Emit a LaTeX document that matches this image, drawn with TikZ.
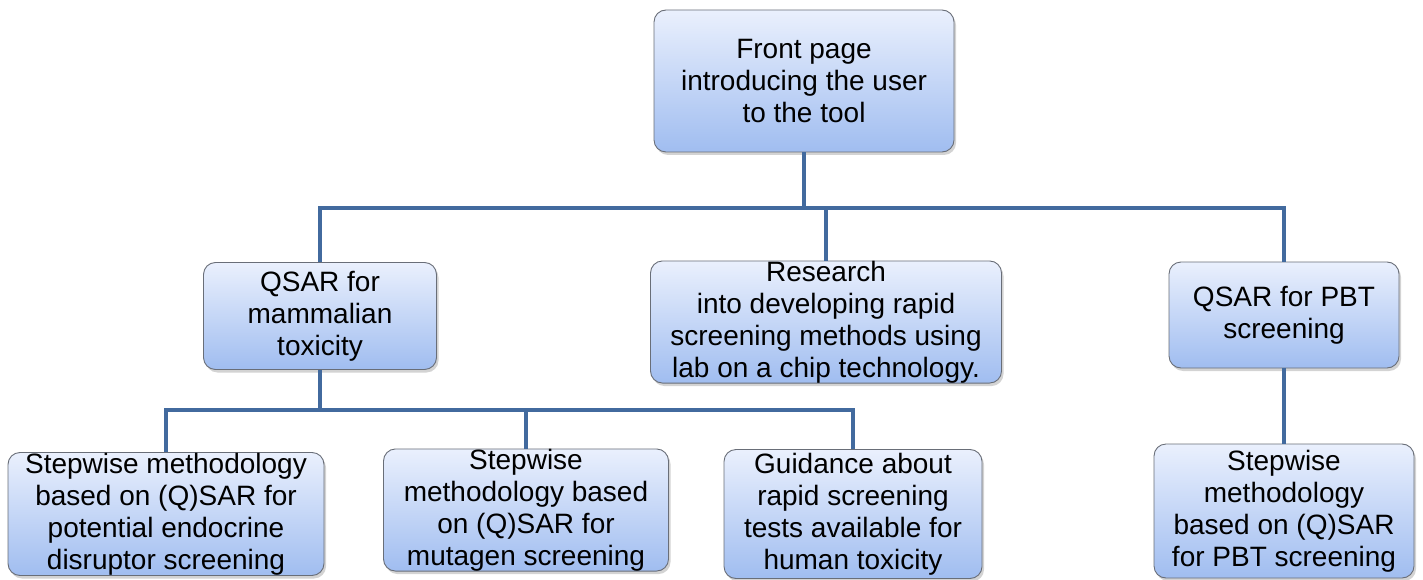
\documentclass[tikz,border=0pt]{standalone}
\usepackage{fontspec}
\setmainfont{Liberation Sans}
\usetikzlibrary{shadows}
\definecolor{boxtop}{RGB}{234,240,253}
\definecolor{boxbot}{RGB}{160,189,240}
\definecolor{boxedge}{RGB}{105,110,120}
\definecolor{linkc}{RGB}{66,106,158}
\tikzset{
  box/.style={draw=boxedge, line width=0.9pt, rounded corners=12pt,
    top color=boxtop, bottom color=boxbot, align=center,
    font=\fontsize{28}{32}\selectfont, inner sep=0pt,
    drop shadow={shadow xshift=2pt, shadow yshift=-3pt, opacity=0.35}},
  link/.style={draw=linkc, line width=4pt}
}
\begin{document}
\begin{tikzpicture}[x=1pt,y=-1pt]
\useasboundingbox (0,0) rectangle (1423,580);
\node[box, minimum width=300pt, minimum height=142pt] (top) at (804,81)
  {Front page\\introducing the user\\to the tool};
\node[box, minimum width=233pt, minimum height=107pt] (mam) at (320,316)
  {QSAR for\\mammalian\\toxicity};
\node[box, minimum width=351pt, minimum height=120pt] (res) at (826,322)
  {Research\\into developing rapid\\screening methods using\\lab on a chip technology.};
\node[box, minimum width=230pt, minimum height=106pt] (pbtq) at (1284,315)
  {QSAR for PBT\\screening};
\node[box, minimum width=316pt, minimum height=123pt] (sw1) at (166,514)
  {Stepwise methodology\\based on (Q)SAR for\\potential endocrine\\disruptor screening};
\node[box, minimum width=285pt, minimum height=117pt] (mut) at (526,510)
  {Stepwise\\methodology based\\on (Q)SAR for\\mutagen screening};
\node[box, minimum width=258pt, minimum height=129pt] (guid) at (853,514)
  {Guidance about\\rapid screening\\tests available for\\human toxicity};
\node[box, minimum width=260pt, minimum height=134pt] (sw4) at (1284,511)
  {Stepwise\\methodology\\based on (Q)SAR\\for PBT screening};
\coordinate (b1) at (804,208);
\coordinate (b2) at (320,410);
\draw[link] (top.south) -- (b1);
\draw[link] (mam.north) |- (b1) -| (pbtq.north);
\draw[link] (res.north) -- (res.north |- b1);
\draw[link] (mam.south) -- (b2);
\draw[link] (sw1.north) |- (b2) -| (guid.north);
\draw[link] (mut.north) -- (mut.north |- b2);
\draw[link] (pbtq.south) -- (sw4.north);
\end{tikzpicture}
\end{document}
